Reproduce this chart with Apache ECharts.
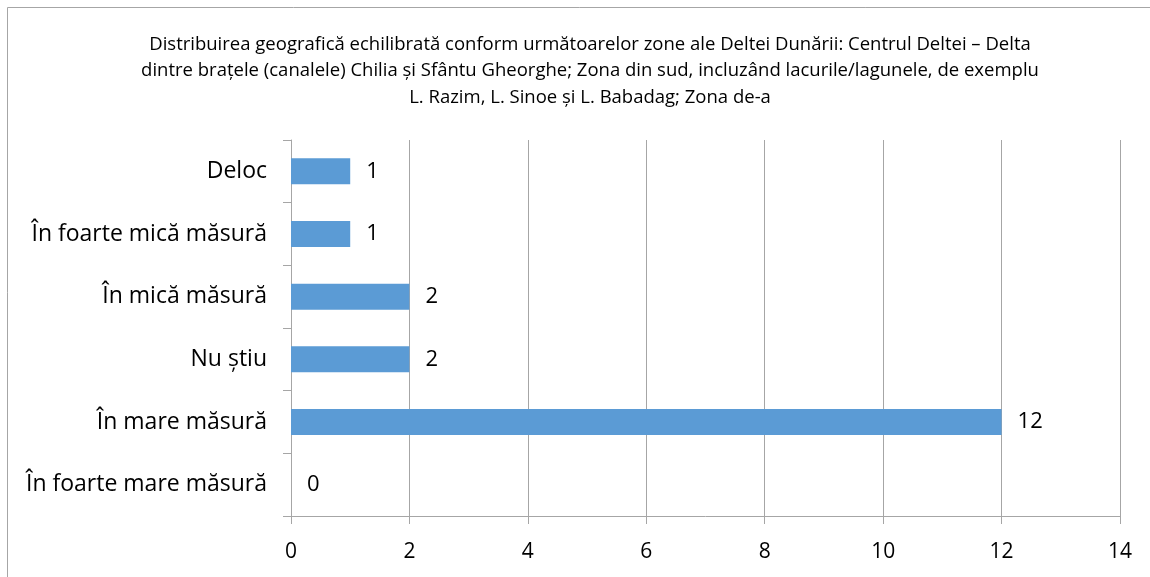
<!DOCTYPE html>
<html>
<head>
<meta charset="utf-8">
<script src="https://cdn.jsdelivr.net/npm/echarts@6/dist/echarts.min.js"></script>
<style>
  html, body { margin: 0; padding: 0; background: #fff; }
  #container { width: 1150px; height: 577px; }
</style>
</head>
<body>
<div id="container"></div>
<script>
var titleText = 'Distribuirea geografică echilibrată conform următoarelor zone ale Deltei Dunării: Centrul Deltei – Delta\n' +
    'dintre brațele (canalele) Chilia și Sfântu Gheorghe; Zona din sud, incluzând lacurile/lagunele, de exemplu\n' +
    'L. Razim, L. Sinoe și L. Babadag; Zona de-a';

// bottom to top, as the category axis draws them
var categories = ['În foarte mare măsură', 'În mare măsură', 'Nu știu', 'În mică măsură', 'În foarte mică măsură', 'Deloc'];
var counts = [0, 12, 2, 2, 1, 1];
var xTicks = [0, 2, 4, 6, 8, 10, 12, 14];

var font = '"Open Sans", sans-serif';
var chart = echarts.init(document.getElementById('container'));

var option = {
    animation: false,
    title: {
        text: titleText,
        left: 585,
        top: 26,
        textAlign: 'center',
        textStyle: {
            fontFamily: font,
            fontSize: 18.5,
            fontWeight: 'normal',
            color: '#000',
            lineHeight: 26.5
        }
    },
    graphic: [{
        type: 'rect',
        shape: { x: 7.5, y: 7.5, width: 1160, height: 600 },
        style: { fill: 'none', stroke: '#a6a6a6', lineWidth: 1 },
        silent: true
    }],
    grid: {
        left: 291,
        right: 30,
        top: 140,
        bottom: 61
    },
    xAxis: {
        type: 'value',
        min: 0,
        max: 14,
        interval: 2,
        axisLine: { show: true, lineStyle: { color: '#a6a6a6' } },
        axisTick: { show: true, length: 8, lineStyle: { color: '#a6a6a6' } },
        splitLine: { show: true, lineStyle: { color: '#a6a6a6', width: 1 } },
        axisLabel: {
            margin: 26,
            fontFamily: font,
            fontSize: 21,
            color: '#000',
            formatter: function (v) {
                return xTicks.indexOf(v) >= 0 ? String(v) : '';
            }
        }
    },
    yAxis: {
        type: 'category',
        data: categories,
        axisLine: { show: true, lineStyle: { color: '#a6a6a6' } },
        axisTick: { show: true, length: 8, lineStyle: { color: '#a6a6a6' } },
        splitLine: { show: false },
        axisLabel: {
            margin: 24,
            fontFamily: font,
            fontSize: 23,
            color: '#000'
        }
    },
    series: [{
        type: 'bar',
        data: counts,
        barWidth: 26,
        itemStyle: { color: '#5b9bd5' },
        label: {
            show: true,
            position: 'right',
            distance: 16,
            fontFamily: font,
            fontSize: 22,
            color: '#000'
        }
    }]
};
chart.setOption(option);

window.addEventListener('resize', function () {
    chart.resize();
});
</script>
</body>
</html>
